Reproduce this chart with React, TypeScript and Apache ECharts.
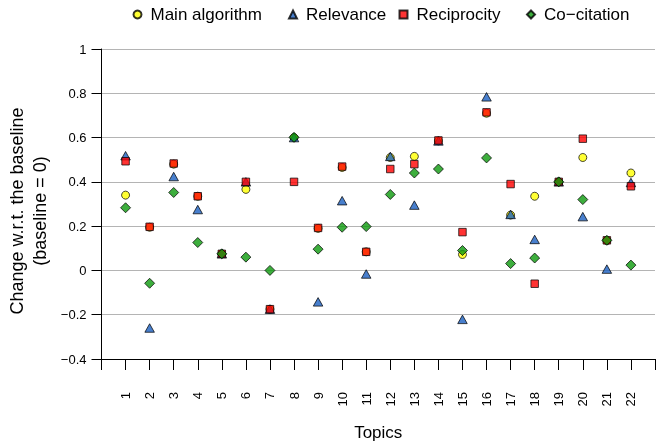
import React, { useEffect, useRef } from "react";
import * as echarts from "echarts";

const topics = [1, 2, 3, 4, 5, 6, 7, 8, 9, 10, 11, 12, 13, 14, 15, 16, 17, 18, 19, 20, 21, 22];
const mainAlgorithm = [0.34, 0.195, 0.48, 0.335, 0.075, 0.366, -0.175, 0.6, 0.19, 0.465, 0.084, 0.51, 0.515, 0.585, 0.072, 0.71, 0.25, 0.335, 0.4, 0.51, 0.135, 0.44];
const relevance = [0.518, -0.26, 0.424, 0.275, 0.075, 0.4, -0.175, 0.6, -0.142, 0.315, -0.016, 0.515, 0.295, 0.585, -0.221, 0.784, 0.253, 0.14, 0.4, 0.243, 0.006, 0.397];
const reciprocity = [0.493, 0.197, 0.483, 0.335, 0.075, 0.4, -0.175, 0.4, 0.192, 0.469, 0.084, 0.458, 0.48, 0.587, 0.173, 0.714, 0.39, -0.06, 0.4, 0.595, 0.136, 0.38];
const coCitation = [0.283, -0.058, 0.352, 0.126, 0.075, 0.06, 0.0, 0.601, 0.096, 0.195, 0.198, 0.343, 0.44, 0.458, 0.09, 0.508, 0.031, 0.056, 0.4, 0.32, 0.136, 0.024];

const seriesNames = ["Main algorithm", "Relevance", "Reciprocity", "Co\u2212citation"];
const yTitle1 = "Change w.r.t. the baseline";
const yTitle2 = "(baseline = 0)";
const xTitle = "Topics";

const FONT = "'Liberation Sans', Arial, Helvetica, sans-serif";

export default function App() {
  const ref = useRef<HTMLDivElement>(null);
  useEffect(() => {
    if (!ref.current) return;
    const chart = echarts.init(ref.current, null, { renderer: "svg" });
    const mk = (vals: number[]) => vals.map((v, i) => [topics[i], v]);
    const border = { borderColor: "#000", borderWidth: 0.9 };
    const legendBase = {
      top: 1,
      padding: 5,
      itemWidth: 8,
      itemHeight: 8,
      textStyle: { fontFamily: FONT, fontSize: 17, color: "#000", padding: [0, 0, 0, 4] },
      selectedMode: false,
    };
    chart.setOption({
      animation: false,
      textStyle: { fontFamily: FONT },
      grid: { left: 101.5, right: 1, top: 49, bottom: 82, containLabel: false },
      legend: [
        { ...legendBase, left: 127.5, data: [seriesNames[0]] },
        { ...legendBase, left: 283, data: [seriesNames[1]] },
        { ...legendBase, left: 393.5, data: [seriesNames[2]] },
        { ...legendBase, left: 521, data: [seriesNames[3]] },
      ],
      xAxis: {
        type: "value",
        min: 0,
        max: 23,
        interval: 1,
        name: xTitle,
        nameLocation: "middle",
        nameGap: 65,
        nameTextStyle: { fontFamily: FONT, fontSize: 17, color: "#000" },
        axisLine: { show: true, onZero: false, lineStyle: { color: "#000", width: 1 } },
        axisTick: { show: true, length: 11, lineStyle: { color: "#000" } },
        axisLabel: {
          rotate: 90,
          margin: 33,
          fontSize: 13,
          color: "#000",
          fontFamily: FONT,
          formatter: (v: number) => (v >= 1 && v <= 22 ? String(v) : ""),
        },
        splitLine: { show: false },
        z: 10,
      },
      yAxis: {
        type: "value",
        min: -0.4,
        max: 1,
        interval: 0.2,
        axisLine: { show: true, onZero: false, lineStyle: { color: "#000", width: 1 } },
        axisTick: { show: true, length: 10, lineStyle: { color: "#000" } },
        axisLabel: {
          margin: 15,
          fontSize: 13,
          color: "#000",
          fontFamily: FONT,
          formatter: (v: number) => {
            const r = Math.round(v * 10) / 10;
            return r < 0 ? "\u2212" + String(Math.abs(r)) : String(r);
          },
        },
        splitLine: { show: true, showMinLine: false, showMaxLine: true, lineStyle: { color: "#b4b4b4", width: 1 } },
      },
      graphic: [
        {
          type: "text",
          x: 17,
          y: 211,
          rotation: Math.PI / 2,
          style: { text: yTitle1, font: `18px ${FONT}`, fill: "#000", textAlign: "center", textVerticalAlign: "middle" },
        },
        {
          type: "text",
          x: 40,
          y: 211,
          rotation: Math.PI / 2,
          style: { text: yTitle2, font: `18px ${FONT}`, fill: "#000", textAlign: "center", textVerticalAlign: "middle" },
        },
      ],
      series: [
        { name: seriesNames[0], type: "scatter", symbol: "circle", symbolSize: 8, data: mk(mainAlgorithm), itemStyle: { color: "#ffff00", ...border }, z: 2 },
        { name: seriesNames[1], type: "scatter", symbol: "triangle", symbolSize: [9.5, 8.5], data: mk(relevance), itemStyle: { color: "#1a5fc0", ...border }, z: 3 },
        { name: seriesNames[2], type: "scatter", symbol: "rect", symbolSize: 7.5, data: mk(reciprocity), itemStyle: { color: "#ff0000", ...border }, z: 4 },
        { name: seriesNames[3], type: "scatter", symbol: "diamond", symbolSize: 10, data: mk(coCitation), itemStyle: { color: "#0c9a0c", ...border }, z: 5 },
      ],
    });
    return () => chart.dispose();
  }, []);
  return (
    <div style={{ position: "fixed", left: 0, top: 0, width: 656, height: 446 }}>
      <div ref={ref} style={{ width: 656, height: 446 }} />
    </div>
  );
}
